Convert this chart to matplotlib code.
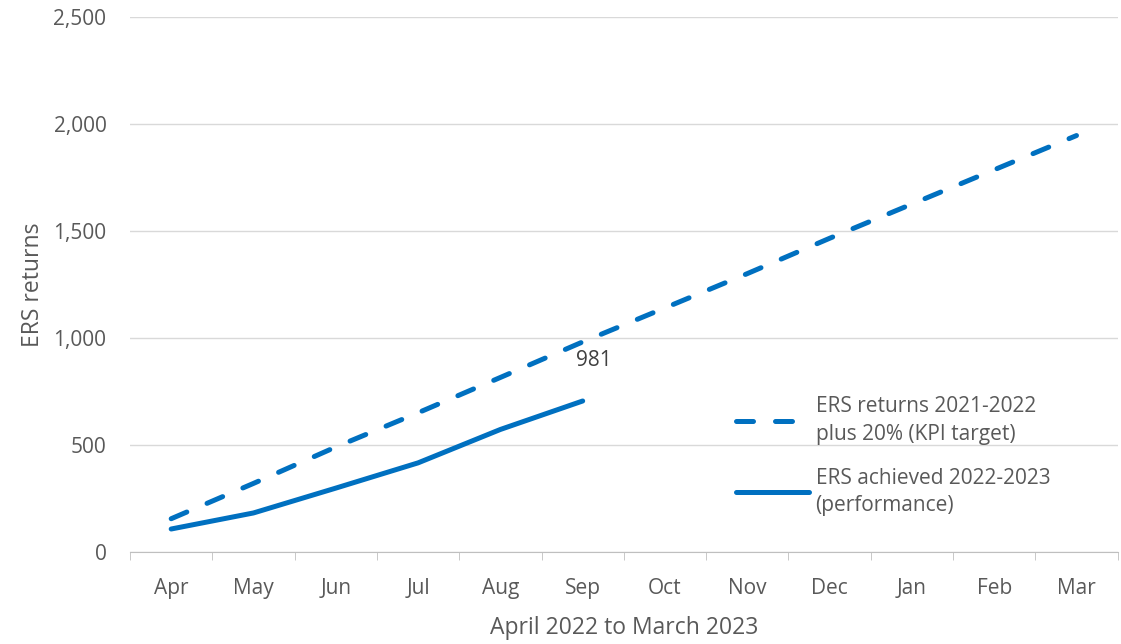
import matplotlib.pyplot as plt

# monthly ERS returns, cumulative
months = ["Apr", "May", "Jun", "Jul", "Aug", "Sep", "Oct", "Nov", "Dec", "Jan", "Feb", "Mar"]
kpi_target = [155, 320, 490, 650, 815, 981, 1140, 1300, 1465, 1625, 1785, 1945]
achieved = [107, 182, 298, 416, 572, 705]

blue = "#0070C0"
grey = "#595959"
plt.rcParams["font.family"] = ["Open Sans", "DejaVu Sans"]

fig = plt.figure(figsize=(11.21, 6.44), dpi=100)
ax = fig.add_axes([0.116, 0.143, 0.881, 0.831])

x = list(range(len(months)))
ax.plot(x, kpi_target, color=blue, lw=3.6, linestyle=(0, (3.4, 4.4)),
        dash_capstyle="round", label="ERS returns 2021-2022\nplus 20% (KPI target)")
ax.plot(x[:len(achieved)], achieved, color=blue, lw=3.6, solid_capstyle="round",
        label="ERS achieved 2022-2023\n(performance)")

# label on the September target point
sep = months.index("Sep")
ax.annotate(f"{kpi_target[sep]:,}", (sep, kpi_target[sep]), xytext=(-5, -6),
            textcoords="offset points", ha="left", va="top", fontsize=15, color="#404040")

ax.set_xlim(-0.5, len(months) - 0.5)
ax.set_ylim(0, 2500)
ax.set_yticks(range(0, 2501, 500))
ax.set_yticklabels([f"{v:,}" for v in range(0, 2501, 500)])
ax.set_xticks(x)
ax.set_xticklabels(months)
ax.set_xticks([i - 0.5 for i in range(len(months) + 1)], minor=True)
ax.tick_params(axis="x", which="major", length=0, pad=19, labelsize=15, labelcolor=grey)
ax.tick_params(axis="x", which="minor", length=6, color="#BFBFBF")
ax.tick_params(axis="y", length=0, pad=17, labelsize=15, labelcolor=grey)
ax.grid(axis="y", color="#D9D9D9", lw=1)
ax.set_axisbelow(True)
for s in ["top", "right", "left"]:
    ax.spines[s].set_visible(False)
ax.spines["bottom"].set_color("#BFBFBF")

ax.set_xlabel("April 2022 to March 2023", fontsize=16.5, color=grey, labelpad=12)
ax.set_ylabel("ERS returns", fontsize=16.5, color=grey, labelpad=6)

leg = ax.legend(loc="upper left", bbox_to_anchor=(0.595, 0.326), frameon=False, fontsize=15,
                labelcolor=grey, handlelength=3.5, handletextpad=0.3, labelspacing=1.1)
for t in leg.get_texts():
    t.set_linespacing(1.4)

fig.savefig("out.png", dpi=100)
